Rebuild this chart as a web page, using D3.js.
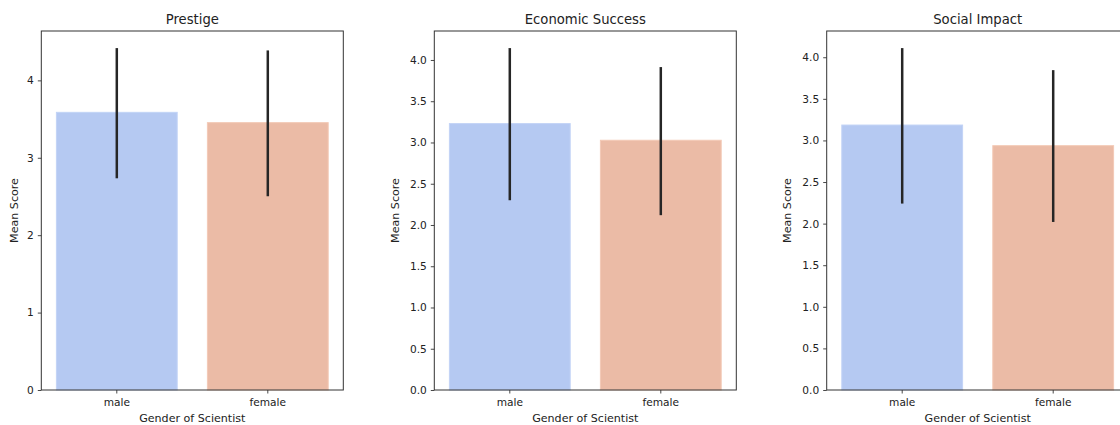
<!DOCTYPE html>
<html>
<head>
<meta charset="utf-8">
<script src="https://cdn.jsdelivr.net/npm/d3@7"></script>
<style>
  body { margin: 0; background: #fff; }
  text { font-family: "DejaVu Sans", sans-serif; fill: #222; }
</style>
</head>
<body>
<svg id="chart" width="1120" height="425"></svg>
<script>
const genders = ["male", "female"];
const panelTitles = ["Prestige", "Economic Success", "Social Impact"];

// mean score per gender, and the error bar ends (lower / upper)
const meanScores = [[3.587, 3.454], [3.229, 3.027], [3.185, 2.937]];
const lowerErr = [[2.735, 2.503], [2.300, 2.119], [2.241, 2.020]];
const upperErr = [[4.417, 4.387], [4.144, 3.914], [4.110, 3.845]];

const yTickValues = [
  [0, 1, 2, 3, 4],
  [0, 0.5, 1, 1.5, 2, 2.5, 3, 3.5, 4],
  [0, 0.5, 1, 1.5, 2, 2.5, 3, 3.5, 4]
];
const yTickFormats = ["d", ".1f", ".1f"];

const barColors = ["#b5c9f2", "#ebbba6"];
const barEdges = ["#c2d3f6", "#f3c9b6"];

const svg = d3.select("#chart");
const panelLefts = [41.3, 434.3, 826.7];
const panelWidth = 302;
const plotTop = 31, plotBottom = 390;

panelTitles.forEach(function (title, p) {
  const g = svg.append("g").attr("transform", "translate(" + panelLefts[p] + ",0)");

  const x = d3.scaleBand().domain(genders).range([0, panelWidth]).paddingInner(0.2).paddingOuter(0.1);
  const yMax = d3.max(upperErr[p]) * 1.05;
  const y = d3.scaleLinear().domain([0, yMax]).range([plotBottom, plotTop]);

  const rows = genders.map(function (gd, i) {
    return { g: gd, i: i, m: meanScores[p][i], lo: lowerErr[p][i], hi: upperErr[p][i] };
  });

  // bars
  g.selectAll(".bar")
    .data(rows)
    .enter().append("rect")
    .attr("class", "bar")
    .attr("x", d => x(d.g))
    .attr("width", x.bandwidth())
    .attr("y", d => y(d.m))
    .attr("height", d => y(0) - y(d.m))
    .style("fill", d => barColors[d.i])
    .style("stroke", d => barEdges[d.i])
    .style("stroke-width", 1);

  // error bars
  g.selectAll(".err")
    .data(rows)
    .enter().append("line")
    .attr("class", "err")
    .attr("x1", d => x(d.g) + x.bandwidth() / 2)
    .attr("x2", d => x(d.g) + x.bandwidth() / 2)
    .attr("y1", d => y(d.lo))
    .attr("y2", d => y(d.hi))
    .style("stroke", "#262626")
    .style("stroke-width", 2.5);

  // axes
  const yAxis = d3.axisLeft(y).tickValues(yTickValues[p]).tickFormat(d3.format(yTickFormats[p])).tickSize(3.5).tickPadding(4);
  const ya = g.append("g").call(yAxis);
  const xAxis = d3.axisBottom(x).tickSize(3.5).tickPadding(5);
  const xa = g.append("g").attr("transform", "translate(0," + plotBottom + ")").call(xAxis);
  [ya, xa].forEach(function (a) {
    a.select(".domain").remove();
    a.selectAll("line").style("stroke", "#333").style("stroke-width", 0.9);
    a.selectAll("text").style("font-size", "10.6px").style("fill", "#222");
  });

  // frame
  g.append("rect")
    .attr("x", 0).attr("y", plotTop)
    .attr("width", panelWidth).attr("height", plotBottom - plotTop)
    .style("fill", "none").style("stroke", "#333").style("stroke-width", 1);

  g.append("text")
    .attr("x", panelWidth / 2).attr("y", 24)
    .attr("text-anchor", "middle")
    .style("font-size", "13.2px")
    .text(title);

  g.append("text")
    .attr("x", panelWidth / 2).attr("y", 422)
    .attr("text-anchor", "middle")
    .style("font-size", "11.1px")
    .text("Gender of Scientist");

  g.append("text")
    .attr("transform", "translate(" + (p === 0 ? -23 : -35.5) + "," + ((plotTop + plotBottom) / 2) + ")rotate(-90)")
    .attr("text-anchor", "middle")
    .style("font-size", "11.1px")
    .text("Mean Score");
});
</script>
</body>
</html>
